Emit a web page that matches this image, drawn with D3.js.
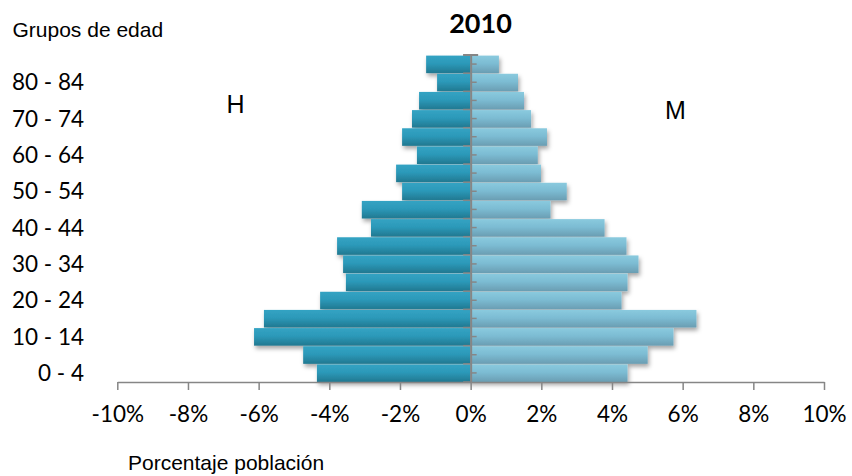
<!DOCTYPE html>
<html>
<head>
<meta charset="utf-8">
<script src="https://cdn.jsdelivr.net/npm/d3@7"></script>
<style>
  html, body { margin: 0; padding: 0; background: #fff; }
  svg { display: block; }
</style>
</head>
<body>
<svg id="chart" width="852" height="476"></svg>
<script>
// Age groups, youngest first
const ageGroups = ["0 - 4","5 - 9","10 - 14","15 - 19","20 - 24","25 - 29","30 - 34","35 - 39",
  "40 - 44","45 - 49","50 - 54","55 - 59","60 - 64","65 - 69","70 - 74","75 - 79","80 - 84","85 - 89"];
// Share of total population (%), men (drawn to the left) and women
const hombres = [4.35,4.74,6.13,5.85,4.26,3.53,3.61,3.78,2.82,3.08,1.94,2.11,1.52,1.94,1.66,1.46,0.95,1.26];
const mujeres = [4.44,5.01,5.74,6.39,4.27,4.44,4.75,4.41,3.79,2.26,2.72,1.99,1.90,2.16,1.71,1.51,1.34,0.80];
// Every other age group is labelled
const labelledGroups = ["0 - 4","10 - 14","20 - 24","30 - 34","40 - 44","50 - 54","60 - 64","70 - 74","80 - 84"];
const xTickValues = [-10,-8,-6,-4,-2,0,2,4,6,8,10];
const xTickLabels = ["-10%","-8%","-6%","-4%","-2%","0%","2%","4%","6%","8%","10%"];

const svg = d3.select("#chart");
const axisGray = "#868686";
const labelFont = "Lato, 'Open Sans', sans-serif";
const textFont = "'Liberation Sans', Arial, sans-serif";

const x = d3.scaleLinear().domain([-10, 10]).range([117.3, 824]);
const yBand = d3.scaleBand().domain(ageGroups).range([382, 55]);
const barPad = 0.6;

// Gradients and shadow
const defs = svg.append("defs");
const gH = defs.append("linearGradient").attr("id", "gradH").attr("x1", 0).attr("y1", 0).attr("x2", 0).attr("y2", 1);
gH.append("stop").attr("offset", "0%").attr("stop-color", "#33a3c3");
gH.append("stop").attr("offset", "45%").attr("stop-color", "#2c99b9");
gH.append("stop").attr("offset", "100%").attr("stop-color", "#217890");
const gM = defs.append("linearGradient").attr("id", "gradM").attr("x1", 0).attr("y1", 0).attr("x2", 0).attr("y2", 1);
gM.append("stop").attr("offset", "0%").attr("stop-color", "#8acade");
gM.append("stop").attr("offset", "45%").attr("stop-color", "#7cbcd3");
gM.append("stop").attr("offset", "100%").attr("stop-color", "#6a9db2");
const shadow = defs.append("filter").attr("id", "shadow")
  .attr("x", "-10%").attr("y", "-30%").attr("width", "130%").attr("height", "180%");
shadow.append("feDropShadow").attr("dx", 1.5).attr("dy", 3).attr("stdDeviation", 2)
  .attr("flood-color", "#000").attr("flood-opacity", 0.35);

// Bars
const bars = svg.append("g").attr("filter", "url(#shadow)");
bars.selectAll("rect.h").data(ageGroups).join("rect").attr("class", "h")
  .attr("x", (d, i) => x(-hombres[i]))
  .attr("width", (d, i) => x(0) - x(-hombres[i]))
  .attr("y", d => yBand(d) + barPad)
  .attr("height", yBand.bandwidth() - barPad)
  .attr("fill", "url(#gradH)");
bars.selectAll("rect.m").data(ageGroups).join("rect").attr("class", "m")
  .attr("x", x(0))
  .attr("width", (d, i) => x(mujeres[i]) - x(0))
  .attr("y", d => yBand(d) + barPad)
  .attr("height", yBand.bandwidth() - barPad)
  .attr("fill", "url(#gradM)");

// Horizontal percentage axis
const xAxis = svg.append("g").attr("transform", "translate(0,382)")
  .call(d3.axisBottom(x).tickValues(xTickValues)
    .tickFormat((d, i) => xTickLabels[i]).tickSize(8).tickSizeOuter(0).tickPadding(16));
xAxis.select(".domain").attr("stroke", axisGray).attr("stroke-width", 1.5);
xAxis.selectAll(".tick line").attr("stroke", axisGray).attr("stroke-width", 1.5);
xAxis.selectAll(".tick text").attr("fill", "#000").attr("font-family", labelFont).attr("font-size", 22.5);

// Central age axis: ticks at band centres on the right, at band edges on the left
const x0 = x(0);
const yAxis = svg.append("g").attr("transform", `translate(${x0},0)`)
  .call(d3.axisRight(yBand).tickSize(6).tickFormat("").tickSizeOuter(0));
yAxis.select(".domain").attr("stroke", axisGray).attr("stroke-width", 2);
yAxis.selectAll(".tick line").attr("stroke", axisGray).attr("stroke-width", 1.5);
const edges = ageGroups.map(d => yBand(d)).concat([yBand(ageGroups[0]) + yBand.bandwidth()]);
svg.append("g").selectAll("line").data(edges).join("line")
  .attr("x1", x0 - 7.5).attr("x2", x0)
  .attr("y1", d => d).attr("y2", d => d)
  .attr("stroke", axisGray).attr("stroke-width", 1.5);
svg.append("line")
  .attr("x1", x0 - 7.5).attr("x2", x0 + 7.5)
  .attr("y1", yBand(ageGroups[ageGroups.length - 1])).attr("y2", yBand(ageGroups[ageGroups.length - 1]))
  .attr("stroke", axisGray).attr("stroke-width", 2);

// Age group labels
svg.append("g").selectAll("text").data(labelledGroups).join("text")
  .attr("x", 84)
  .attr("y", d => yBand(d) + yBand.bandwidth() / 2)
  .attr("dy", "0.36em")
  .attr("text-anchor", "end")
  .attr("font-family", labelFont).attr("font-size", 22.5).attr("fill", "#000")
  .text(d => d);

// Titles and annotations
svg.append("text").attr("x", 480.5).attr("y", 33).attr("text-anchor", "middle")
  .attr("font-family", labelFont).attr("font-weight", "bold").attr("font-size", 27)
  .attr("fill", "#000").text("2010");
svg.append("text").attr("x", 12.5).attr("y", 36.5)
  .attr("font-family", textFont).attr("font-size", 21).attr("fill", "#000").text("Grupos de edad");
svg.append("text").attr("x", 128).attr("y", 470)
  .attr("font-family", textFont).attr("font-size", 21).attr("fill", "#000").text("Porcentaje población");
svg.append("text").attr("x", 235.5).attr("y", 113).attr("text-anchor", "middle")
  .attr("font-family", textFont).attr("font-size", 25).attr("fill", "#000").text("H");
svg.append("text").attr("x", 675.5).attr("y", 119.3).attr("text-anchor", "middle")
  .attr("font-family", textFont).attr("font-size", 25).attr("fill", "#000").text("M");
</script>
</body>
</html>
